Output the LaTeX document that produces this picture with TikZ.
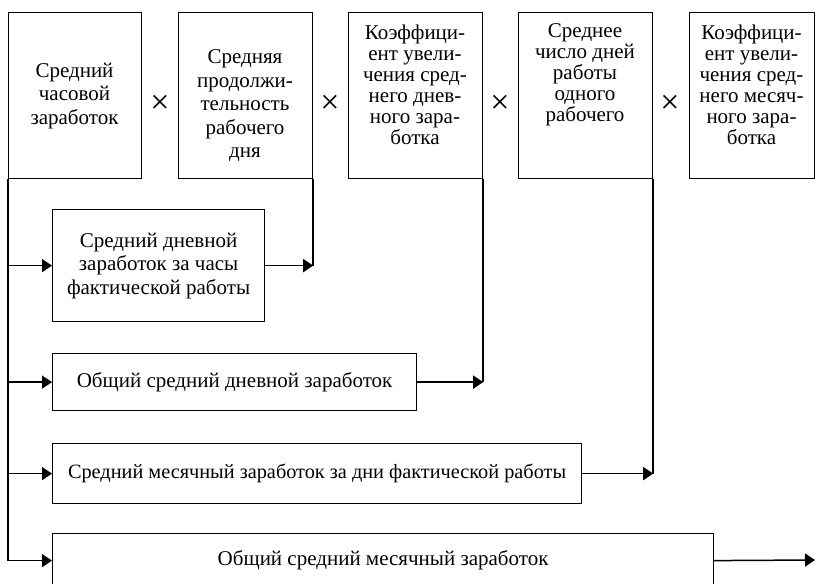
\documentclass[tikz,border=0pt]{standalone}
\usepackage{fontspec}
\setmainfont{Liberation Serif}
\usetikzlibrary{arrows.meta}
\begin{document}
\begin{tikzpicture}[x=1pt,y=-1pt,
  box/.style={draw, line width=1.2pt, inner sep=0pt, anchor=north west},
  txt/.style={align=center, inner sep=0pt, font=\fontsize{21}{23.5}\selectfont},
  tighttxt/.style={align=center, inner sep=0pt, font=\fontsize{21}{21}\selectfont},
  mult/.style={inner sep=0pt, font=\fontsize{34}{34}\selectfont},
  conn/.style={line width=1.5pt},
  arr/.style={line width=1.5pt, -{Triangle[length=10pt,width=13pt]}}]
\fill[white] (0,0) rectangle (815,584);
\useasboundingbox (0,0) rectangle (815,584);
\clip (0,0) rectangle (815,584);
% top row boxes
\node[box, minimum width=133pt, minimum height=166pt] (b1) at (8,12) {};
\node[box, minimum width=134pt, minimum height=166pt] (b2) at (178,12) {};
\node[box, minimum width=134pt, minimum height=166pt] (b3) at (348,12) {};
\node[box, minimum width=134pt, minimum height=166pt] (b4) at (518,12) {};
\node[box, minimum width=125pt, minimum height=166pt] (b5) at (689,12) {};
\node[txt] (t1) at (74.5,96) {Средний\\часовой\\заработок};
\node[txt] (t2) at (245,106) {Средняя\\продолжи-\\тельность\\рабочего\\дня};
\node[tighttxt] (t3) at (415,85) {Коэффици-\\ент увели-\\чения сред-\\него днев-\\ного зара-\\ботка};
\node[tighttxt] (t4) at (585,75) {Среднее\\число дней\\работы\\одного\\рабочего};
\node[tighttxt] (t5) at (751.5,85) {Коэффици-\\ент увели-\\чения сред-\\него месяч-\\ного зара-\\ботка};
% multiplication signs
\node[mult] (m1) at (160,104) {×};
\node[mult] (m2) at (330,104) {×};
\node[mult] (m3) at (500,104) {×};
\node[mult] (m4) at (670,104) {×};
% lower boxes
\node[box, minimum width=212pt, minimum height=112pt, txt] (b6) at (52,209) {Средний дневной\\заработок за часы\\фактической работы};
\node[box, minimum width=364pt, minimum height=57pt, txt] (b7) at (52,353) {Общий средний дневной заработок};
\node[box, minimum width=529pt, minimum height=60pt, txt, font=\fontsize{20.3}{23}\selectfont] (b8) at (52,443) {Средний месячный заработок за дни фактической работы};
\node[box, minimum width=661pt, minimum height=54pt, txt] (b9) at (52,533) {Общий средний месячный заработок};
\coordinate (out) at (815,560);
% trunk
\draw[conn] (b1.south west) -- (b1.south west |- b9.west);
\draw[arr] (b1.south west |- b6.west) -- (b6.west);
\draw[arr] (b1.south west |- b7.west) -- (b7.west);
\draw[arr] (b1.south west |- b8.west) -- (b8.west);
\draw[arr] (b1.south west |- b9.west) -- (b9.west);
% right connectors
\draw[conn] (b2.south east) -- (b2.south east |- b6.east);
\draw[arr] (b6.east) -- (b2.south east |- b6.east);
\draw[conn] (b3.south east) -- (b3.south east |- b7.east);
\draw[arr] (b7.east) -- (b3.south east |- b7.east);
\draw[conn] (b4.south east) -- (b4.south east |- b8.east);
\draw[arr] (b8.east) -- (b4.south east |- b8.east);
\draw[arr] (b9.east) -- (out);
\end{tikzpicture}
\end{document}
